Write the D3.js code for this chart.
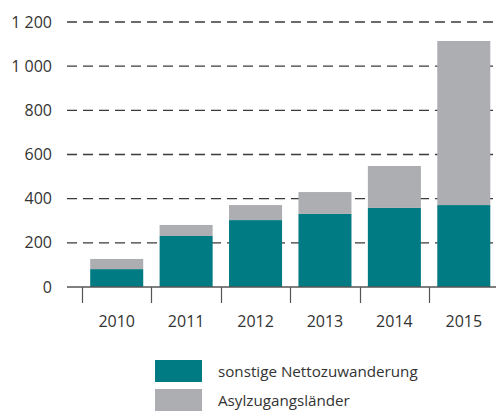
<!DOCTYPE html>
<html>
  <head>
    <meta charset="utf-8">
    <title>Nettozuwanderung</title>
    <script src="https://cdn.jsdelivr.net/npm/d3@7"></script>
    <style>
      body { margin: 0; background: #fff; }
      text { font-family: "Open Sans", sans-serif; font-size: 16px; fill: #333; }
      .legend text { font-size: 15.2px; }
    </style>
  </head>
  <body>
    <div id="chart"></div>

    <script>
      // data
      var years = ["2010", "2011", "2012", "2013", "2014", "2015"];
      var sonstige = [81, 231, 303, 331, 358, 371];
      var asyl = [46, 50, 68, 99, 190, 743];
      var yTicks = [0, 200, 400, 600, 800, 1000, 1200];
      var seriesNames = ["sonstige Nettozuwanderung", "Asylzugangsländer"];
      var colours = ["#007b83", "#adaeb1"];

      var width = 496, height = 411;
      var svg = d3.select("#chart")
        .append("svg")
          .attr("width", width)
          .attr("height", height);

      // scales
      var x = d3.scaleBand()
        .domain(years)
        .range([82, 498.5])
        .paddingInner(0.236)
        .paddingOuter(0.118);
      var y = d3.scaleLinear()
        .domain([0, 1200])
        .range([287, 22]);
      var fmt = d3.formatLocale({ decimal: ",", thousands: " ", grouping: [3], currency: ["", " €"] }).format(",d");

      // gridlines
      svg.append("g")
        .selectAll("line")
          .data(yTicks.filter(function(d) { return d > 0; }))
        .enter().append("line")
          .attr("x1", 67)
          .attr("x2", width)
          .attr("y1", function(d) { return y(d); })
          .attr("y2", function(d) { return y(d); })
          .attr("stroke", "#3a3a3a")
          .attr("stroke-width", 1.3)
          .attr("stroke-dasharray", "10,6");

      // y labels
      svg.append("g")
        .selectAll("text")
          .data(yTicks)
        .enter().append("text")
          .attr("x", 52)
          .attr("y", function(d) { return y(d); })
          .attr("dy", "0.35em")
          .attr("text-anchor", "end")
          .text(function(d) { return fmt(d); });

      // stacked bars
      var rows = years.map(function(yr, i) {
        return { year: yr, sonstige: sonstige[i], asyl: asyl[i] };
      });
      var stack = d3.stack().keys(["sonstige", "asyl"])(rows);
      svg.append("g")
        .selectAll("g")
          .data(stack)
        .enter().append("g")
          .attr("fill", function(d, i) { return colours[i]; })
        .selectAll("rect")
          .data(function(d) { return d; })
        .enter().append("rect")
          .attr("x", function(d) { return x(d.data.year); })
          .attr("width", x.bandwidth())
          .attr("y", function(d) { return y(d[1]); })
          .attr("height", function(d) { return y(d[0]) - y(d[1]); });

      // x axis baseline and ticks
      var half = x.step() * x.paddingInner() / 2;
      svg.append("line")
        .attr("x1", 67)
        .attr("x2", width)
        .attr("y1", y(0))
        .attr("y2", y(0))
        .attr("stroke", "#555")
        .attr("stroke-width", 1.3);
      svg.append("g")
        .selectAll("line")
          .data(years)
        .enter().append("line")
          .attr("x1", function(d) { return Math.round(x(d) - half) + 0.5; })
          .attr("x2", function(d) { return Math.round(x(d) - half) + 0.5; })
          .attr("y1", y(0))
          .attr("y2", y(0) + 16)
          .attr("stroke", "#555")
          .attr("stroke-width", 1.2);
      svg.append("g")
        .selectAll("text")
          .data(years)
        .enter().append("text")
          .attr("x", function(d) { return x(d) + x.bandwidth() / 2; })
          .attr("y", 321)
          .attr("dy", "0.35em")
          .attr("text-anchor", "middle")
          .text(function(d) { return d; });

      // legend
      var legend = svg.append("g")
          .attr("class", "legend")
        .selectAll("g")
          .data(seriesNames)
        .enter().append("g")
          .attr("transform", function(d, i) { return "translate(155," + (360 + i * 29) + ")"; });
      legend.append("rect")
        .attr("width", 47)
        .attr("height", 22)
        .attr("fill", function(d, i) { return colours[i]; });
      legend.append("text")
        .attr("x", 63)
        .attr("y", 12)
        .attr("dy", "0.35em")
        .text(function(d) { return d; });
    </script>
  </body>
</html>
